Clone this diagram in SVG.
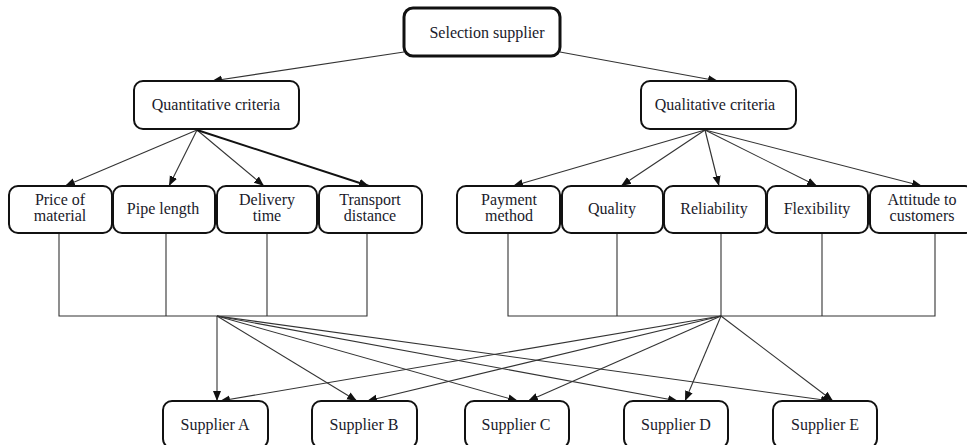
<svg xmlns="http://www.w3.org/2000/svg" width="967" height="445" viewBox="0 0 967 445">
<style>
.box{fill:#fff;stroke:#111;stroke-width:2}
.top{fill:#fff;stroke:#111;stroke-width:3}
text{font-family:"Liberation Serif","Times New Roman",serif;font-size:16px;fill:#1a1a2a;text-anchor:middle}
.ln{stroke:#333;stroke-width:1.1;fill:none}
.arr{stroke:#333;stroke-width:1.1;fill:none;marker-end:url(#ah)}
.arrb{stroke:#111;stroke-width:2;fill:none;marker-end:url(#ah)}
</style>
<defs>
<marker id="ah" markerUnits="userSpaceOnUse" markerWidth="10" markerHeight="10" viewBox="0 0 10 10" refX="10" refY="5" orient="auto">
<path d="M0,1 L10,5 L0,9 Z" fill="#111"/>
</marker>
</defs>
<rect width="967" height="445" fill="#fff"/>
<g id="connectors">
<line class="arr" x1="404" y1="52" x2="212" y2="81"/>
<line class="arr" x1="560" y1="52" x2="718" y2="81"/>
<line class="arr" x1="197" y1="130" x2="65" y2="186"/>
<line class="arr" x1="197" y1="130" x2="169" y2="186"/>
<line class="arr" x1="197" y1="130" x2="264" y2="186"/>
<line class="arrb" x1="197" y1="130" x2="369" y2="186"/>
<line class="arr" x1="705" y1="130" x2="513" y2="186"/>
<line class="arr" x1="705" y1="130" x2="621" y2="186"/>
<line class="arr" x1="705" y1="130" x2="719" y2="186"/>
<line class="arr" x1="705" y1="130" x2="817" y2="186"/>
<line class="arr" x1="705" y1="130" x2="922" y2="186"/>
<path class="ln" d="M59,233 V316 H367 V233 M166,233 V316 M267,233 V316"/>
<path class="ln" d="M508,233 V316 H935 V233 M617,233 V316 M721,233 V316 M822,233 V316"/>
<line class="arr" x1="217" y1="316" x2="217" y2="401"/>
<line class="arr" x1="217" y1="316" x2="357" y2="401"/>
<line class="arr" x1="217" y1="316" x2="518" y2="401"/>
<line class="arr" x1="217" y1="316" x2="678" y2="401"/>
<line class="arr" x1="217" y1="316" x2="831" y2="401"/>
<line class="arr" x1="721" y1="316" x2="220" y2="401"/>
<line class="arr" x1="721" y1="316" x2="367" y2="401"/>
<line class="arr" x1="721" y1="316" x2="528" y2="401"/>
<line class="arr" x1="721" y1="316" x2="685" y2="401"/>
<line class="arr" x1="721" y1="316" x2="833" y2="401"/>
</g>
<g id="selection"><rect class="top" x="404" y="8" width="156" height="48" rx="9"/><text x="487" y="38">Selection supplier</text></g>
<g id="quantitative"><rect class="box" x="134" y="81" width="165" height="48" rx="9"/><text x="216" y="110">Quantitative criteria</text></g>
<g id="qualitative"><rect class="box" x="641" y="81" width="155" height="48" rx="9"/><text x="715" y="110">Qualitative criteria</text></g>
<g id="price"><rect class="box" x="9" y="186" width="103" height="47" rx="9"/><text x="60" y="205">Price of</text><text x="60" y="221">material</text></g>
<g id="pipe"><rect class="box" x="113" y="186" width="102" height="47" rx="9"/><text x="163" y="214">Pipe length</text></g>
<g id="delivery"><rect class="box" x="217" y="186" width="100" height="47" rx="9"/><text x="267" y="205">Delivery</text><text x="267" y="221">time</text></g>
<g id="transport"><rect class="box" x="319" y="186" width="103" height="47" rx="9"/><text x="370" y="205">Transport</text><text x="370" y="221">distance</text></g>
<g id="payment"><rect class="box" x="457" y="186" width="103" height="47" rx="9"/><text x="509" y="205">Payment</text><text x="509" y="221">method</text></g>
<g id="quality"><rect class="box" x="562" y="186" width="101" height="47" rx="9"/><text x="612" y="214">Quality</text></g>
<g id="reliability"><rect class="box" x="664" y="186" width="102" height="47" rx="9"/><text x="714" y="214">Reliability</text></g>
<g id="flexibility"><rect class="box" x="767" y="186" width="101" height="47" rx="9"/><text x="817" y="214">Flexibility</text></g>
<g id="attitude"><rect class="box" x="870" y="186" width="104" height="47" rx="9"/><text x="922" y="205">Attitude to</text><text x="922" y="221">customers</text></g>
<g id="supplierA"><rect class="box" x="163" y="401" width="105" height="47" rx="9"/><text x="215" y="430">Supplier A</text></g>
<g id="supplierB"><rect class="box" x="312" y="401" width="105" height="47" rx="9"/><text x="364" y="430">Supplier B</text></g>
<g id="supplierC"><rect class="box" x="465" y="401" width="104" height="47" rx="9"/><text x="516" y="430">Supplier C</text></g>
<g id="supplierD"><rect class="box" x="624" y="401" width="104" height="47" rx="9"/><text x="676" y="430">Supplier D</text></g>
<g id="supplierE"><rect class="box" x="773" y="401" width="104" height="47" rx="9"/><text x="825" y="430">Supplier E</text></g>
</svg>
